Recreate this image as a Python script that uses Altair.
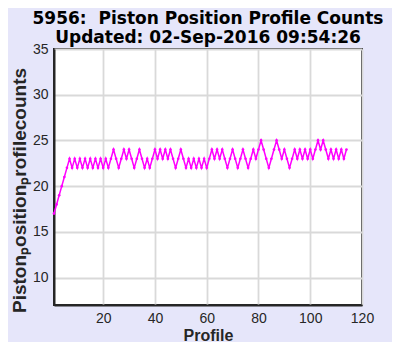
import altair as alt
import pandas as pd

profiles = list(range(1, 115))
counts = (
    [17, 18, 19, 20, 21, 22, 23]
    + [22, 23, 22, 23, 22, 23, 22, 23, 22, 23, 22, 23, 22, 23, 22, 23]
    + [24, 23, 22, 23, 24, 23, 24, 23, 22, 23, 24, 23, 22, 23, 22, 23, 24]
    + [23, 24, 23, 24, 23, 24, 23, 22, 23, 24]
    + [23, 22, 23, 22, 23, 22, 23, 22, 23, 22, 23]
    + [24, 23, 24, 23, 24, 23]
    + [22, 23, 24, 23, 22, 23, 24, 23, 22, 23, 24, 23]
    + [24, 25, 24, 23, 22, 23, 24, 25, 24, 23, 24, 23]
    + [22, 23, 24, 23, 24, 23, 24, 23, 24, 23]
    + [24, 25, 24, 25, 24, 23, 24, 23, 24, 23, 24, 23, 24]
)
x_ticks = [20, 40, 60, 80, 100, 120]
y_ticks = [10, 15, 20, 25, 30, 35]
title_lines = ["5956:\u00a0 Piston Position Profile Counts", "Updated: 02-Sep-2016 09:54:26"]
x_title = "Profile"
y_title = "Pistonₚositionₚrofileᴄounts"

df = pd.DataFrame({"Profile": profiles, "Counts": counts})

x = alt.X(
    "Profile:Q",
    scale=alt.Scale(domain=[1, 120], nice=False, zero=False),
    axis=alt.Axis(
        values=x_ticks, title=x_title, ticks=False, labelPadding=6,
        titlePadding=2, labelFont="Liberation Sans", labelFontSize=14,
        labelColor="#262626", titleFont="Liberation Sans", titleFontSize=16,
        titleFontWeight="bold", titleColor="#262626",
        domainColor="#262626", domainWidth=2,
        gridColor="#d9d9d9", gridWidth=1.8, labelFlush=False,
    ),
)
y = alt.Y(
    "Counts:Q",
    scale=alt.Scale(domain=[7, 35], nice=False, zero=False),
    axis=alt.Axis(
        values=y_ticks, title=y_title, ticks=False, labelPadding=6,
        titlePadding=3, titleY=141, labelFont="Liberation Sans", labelFontSize=14,
        labelColor="#262626", titleFont="Liberation Sans", titleFontSize=19,
        titleFontWeight="bold", titleColor="#262626",
        domainColor="#262626", domainWidth=2,
        gridColor="#d9d9d9", gridWidth=1.8, labelFlush=False,
    ),
)

line = alt.Chart(df).mark_line(
    color="#ff00ff", strokeWidth=1.5,
    point=alt.OverlayMarkDef(color="#ff00ff", size=7, filled=True),
).encode(x=x, y=y)

chart = (
    line.properties(
        width=308,
        height=256,
        title=alt.TitleParams(
            title_lines, font="DejaVu Sans", fontSize=17, fontWeight="bold",
            anchor="middle", color="black", offset=5, dy=10, lineHeight=19.5,
        ),
        autosize=alt.AutoSizeParams(type="none"),
        padding={"left": 46, "top": 41, "right": 30, "bottom": 37},
    )
    .configure(background="#e6e6fa")
    .configure_view(fill="white", stroke="#262626", strokeWidth=2)
)

chart.save("out.html", embed_options={"renderer": "svg", "actions": False})
